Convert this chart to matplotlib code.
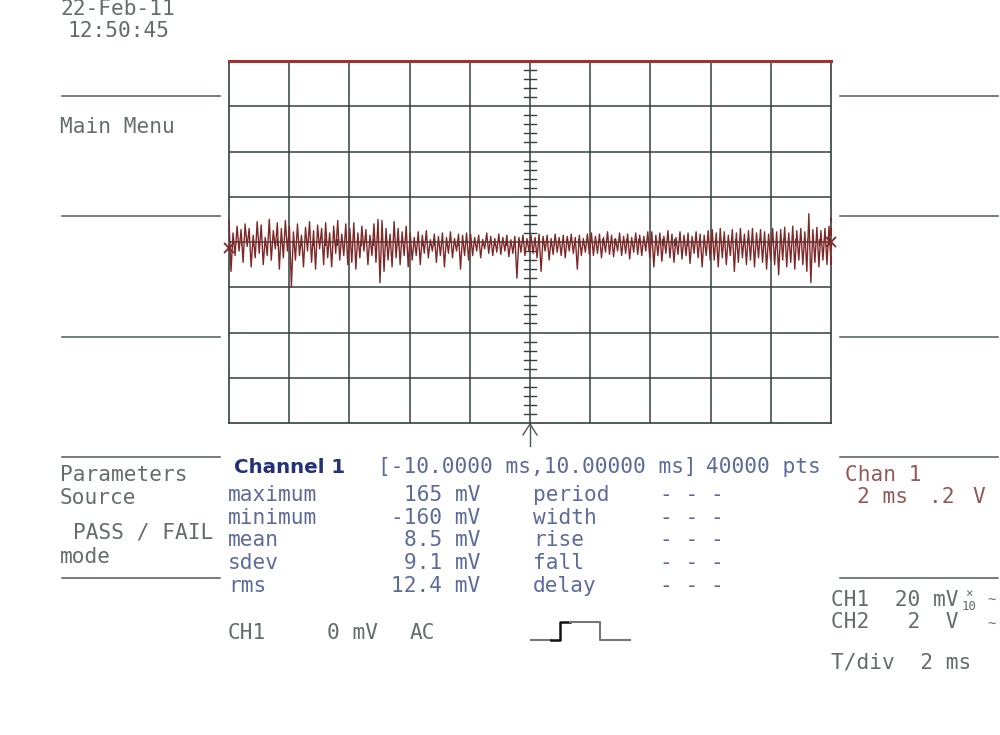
import numpy as np
import matplotlib
matplotlib.use("Agg")
import matplotlib.pyplot as plt

# ---------------- data ----------------
# screen header
date_text = "22-Feb-11"
time_text = "12:50:45"

# trace samples (mV, 200 mV/div), one row per horizontal division
trace_div = [
    [95, -130, 40, -60, 70, -40, 55, -90, 80, -20, 60, -110, 30, -70, 90, -50, 75, -100, 20, -60, 100, -80, 50, -30, 85, -120, 60, -70, 95, -40],
    [70, -200, 45, -80, 80, -60, 30, -110, 65, -40, 90, -90, 50, -120, 75, -30, 60, -100, 85, -70, 40, -110, 70, -50, 95, -80, 35, -60, 80, -100],
    [60, -90, 85, -120, 40, -70, 70, -40, 55, -100, 30, -60, 80, -90, 100, -180, 95, -130, 60, -80, 35, -110, 90, -70, 60, -100, 45, -60, 70, -110],
    [40, -80, 20, -60, 45, -100, 30, -50, 50, -70, 10, -40, 35, -90, 25, -60, 40, -110, 20, -50, 45, -70, 15, -40, 35, -120, 30, -60, 40, -80],
    [35, -60, 20, -40, 30, -70, 10, -30, 40, -50, 25, -60, 15, -45, 35, -55, 20, -40, 30, -65, 10, -50, 25, -160, 20, -45, 30, -60, 15, -40],
    [30, -50, 20, -70, 35, -130, 25, -40, 30, -80, 15, -55, 35, -45, 20, -60, 30, -70, 25, -40, 35, -50, 20, -120, 30, -60, 15, -45, 35, -55],
    [40, -60, 25, -50, 35, -70, 20, -45, 45, -55, 30, -65, 15, -40, 40, -60, 25, -50, 35, -75, 20, -45, 40, -55, 30, -60, 25, -40, 45, -70],
    [45, -110, 30, -60, 40, -85, 25, -50, 50, -70, 35, -90, 20, -55, 45, -75, 30, -60, 40, -95, 25, -50, 45, -70, 35, -110, 30, -60, 50, -80],
    [55, -80, 40, -110, 60, -70, 45, -100, 30, -60, 55, -130, 40, -90, 60, -70, 35, -100, 50, -80, 60, -110, 40, -70, 55, -90, 45, -120, 35, -80],
    [60, -100, 45, -145, 55, -80, 65, -110, 40, -90, 70, -120, 50, -80, 60, -100, 45, -130, 125, -180, 55, -90, 65, -110, 50, -80, 60, -100, 70, -90],
]
t_start, t_end = -10.0, 10.0          # ms
v_per_div = 200                       # mV per division (display)
n_hdiv, n_vdiv = 10, 8
left_marker_mv = -25
right_marker_mv = 0

param_names = ["maximum", "minimum", "mean", "sdev", "rms"]
param_values = ["165 mV", "-160 mV", "8.5 mV", "9.1 mV", "12.4 mV"]
timing_names = ["period", "width", "rise", "fall", "delay"]
timing_values = ["- - -"] * 5

# ---------------- figure ----------------
W, H = 1000, 735
fig = plt.figure(figsize=(W / 100, H / 100), dpi=100)
fig.patch.set_facecolor("white")
bg = fig.add_axes([0, 0, 1, 1])
bg.set_xlim(0, W)
bg.set_ylim(H, 0)
bg.axis("off")

FONT = "DejaVu Sans Mono"
FS = 15.2
GREY = "#646c6c"
BLUE = "#5d6a9c"
NAVY = "#22327a"
BROWN = "#955858"
GRID = "#33403f"
RED = "#7e2828"
LINE = "#4f5858"


def txt(x, y, s, color=GREY, size=FS, ha="left", weight="normal", family=FONT):
    bg.text(x, y, s, color=color, fontsize=size, ha=ha, va="center",
            family=family, weight=weight)


# header
txt(60, 9, date_text)
txt(67, 31, time_text)

# side menu separators
for y in [96, 216, 337, 457, 578]:
    bg.plot([62, 220], [y, y], color=LINE, lw=1.1)
for y in [96, 216, 337, 457, 578]:
    bg.plot([840, 998], [y, y], color=LINE, lw=1.1)
txt(60, 127, "Main Menu")
txt(60, 475, "Parameters")
txt(60, 498, "Source")
txt(73, 533, "PASS / FAIL")
txt(60, 557, "mode")

# measurement header
txt(234, 467, "Channel 1", color=NAVY, weight="bold", family="DejaVu Sans", size=14.3)
txt(378, 467, "[-10.0000 ms,10.00000 ms]", color=BLUE)
txt(706, 467, "40000 pts", color=BLUE)

rows_y = [495, 518, 540, 563, 586]
for y, n, v, tn, tv in zip(rows_y, param_names, param_values, timing_names, timing_values):
    txt(228, y, n, color=BLUE)
    txt(480, y, v, color=BLUE, ha="right")
    txt(533, y, tn, color=BLUE)
    txt(660, y, tv, color=BLUE)

# channel info right
txt(845, 475, "Chan 1", color=BROWN)
txt(857, 497, "2 ms", color=BROWN)
txt(929, 497, ".2", color=BROWN)
txt(972, 497, "V", color=BROWN)

txt(831, 600, "CH1  20 mV")
txt(969, 594, "\u00d7", size=9, ha="center")
txt(969, 606, "10", size=9, ha="center")
txt(992, 601, "~", size=10, ha="center")
txt(831, 622, "CH2   2  V")
txt(992, 625, "~", size=10, ha="center")
txt(831, 663, "T/div  2 ms")

# bottom status
txt(228, 633, "CH1")
txt(327, 633, "0 mV")
txt(410, 633, "AC")
bg.plot([531, 551], [640, 640], color="#777777", lw=1.5)
bg.plot([551, 560, 560, 570], [640, 640, 622, 622], color="#111111", lw=1.8)
bg.plot([570, 600, 600, 630], [622, 622, 640, 640], color="#777777", lw=1.5)

# trigger arrow under graticule
bg.plot([530, 530], [423, 446], color=LINE, lw=1.0)
bg.plot([523, 530, 537], [435, 424, 435], color=LINE, lw=1.0)

# ---------------- graticule ----------------
gl, gt, gr, gb = 229, 61, 831, 423
ax = fig.add_axes([gl / W, 1 - gb / H, (gr - gl) / W, (gb - gt) / H])
ax.set_xlim(t_start, t_end)
ymax = v_per_div * n_vdiv / 2
ax.set_ylim(-ymax, ymax)
ax.set_facecolor("none")
ax.set_xticks([])
ax.set_yticks([])
for s in ["left", "right", "bottom"]:
    ax.spines[s].set_color(GRID)
    ax.spines[s].set_linewidth(1.2)
ax.spines["top"].set_color("#a03232")
ax.spines["top"].set_linewidth(2.2)

hdiv = (t_end - t_start) / n_hdiv
for i in range(1, n_hdiv):
    ax.axvline(t_start + i * hdiv, color=GRID, lw=1.1)
for j in range(1, n_vdiv):
    ax.axhline(-ymax + j * v_per_div, color=GRID, lw=1.1)

# minor ticks on centre axes
tick_t = 6 * (t_end - t_start) / (gr - gl)
for k in range(-n_vdiv * 5 // 2 + 1, n_vdiv * 5 // 2):
    if k % 5 == 0:
        continue
    y = k * v_per_div / 5
    ax.plot([-tick_t, tick_t], [y, y], color=GRID, lw=1.0)
tick_v = 3 * 2 * ymax / (gb - gt)
for k in range(-n_hdiv * 5 // 2 + 1, n_hdiv * 5 // 2):
    if k % 5 == 0:
        continue
    x = k * hdiv / 5
    ax.plot([x, x], [-tick_v, tick_v], color=GRID, lw=0.8)

# trace
vals = np.concatenate([np.array(r, float) for r in trace_div])
t = np.linspace(t_start, t_end, len(vals))
ax.plot(t, vals, color=RED, lw=1.0, zorder=5, clip_on=False)
ax.plot([t_start], [left_marker_mv], marker="x", color=RED, ms=7, mew=1.3, zorder=6, clip_on=False)
ax.plot([t_end], [right_marker_mv], marker="x", color=RED, ms=7, mew=1.3, zorder=6, clip_on=False)
ax.plot([t_end, t_end], [-100, 106], color=RED, lw=1.5, ls=(0, (4, 3)), zorder=6, clip_on=False)

fig.savefig("out.png", dpi=100, facecolor="white")
